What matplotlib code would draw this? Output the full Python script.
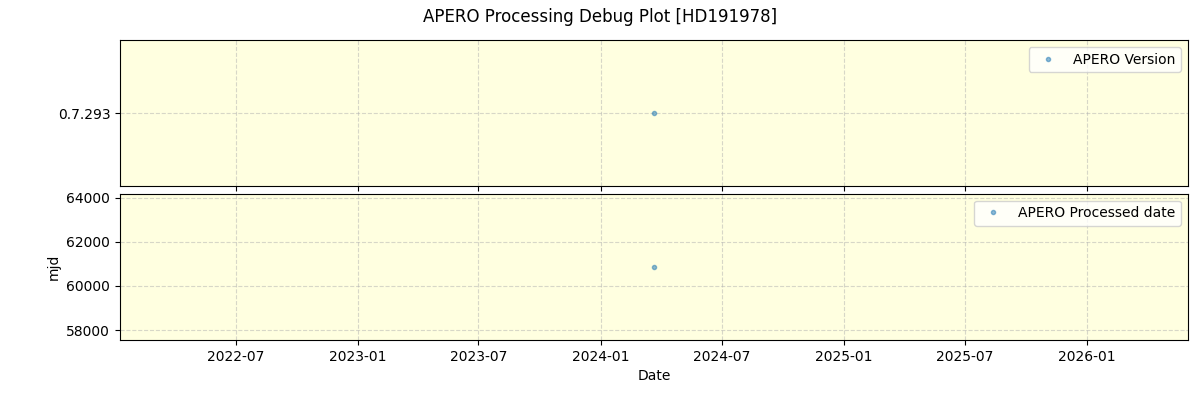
import matplotlib
matplotlib.use("Agg")
import matplotlib.pyplot as plt
import pandas as pd

# data
obs_dates = pd.to_datetime(["2024-03-21"])
versions = ["0.7.293"]
processed_mjd = [60864]

fig, (ax1, ax2) = plt.subplots(2, 1, figsize=(12, 4), dpi=100, sharex=True)
fig.subplots_adjust(left=0.1, right=0.99, top=0.9, bottom=0.15, hspace=0.05)
fig.suptitle("APERO Processing Debug Plot [HD191978]")

ax1.plot(obs_dates, versions, ".", alpha=0.5, label="APERO Version")
ax2.plot(obs_dates, processed_mjd, ".", alpha=0.5, label="APERO Processed date")

for ax in (ax1, ax2):
    ax.set_facecolor("lightyellow")
    ax.grid(True, linestyle="--", alpha=0.5)
    ax.legend(loc="upper right")

ax2.set_xlim(pd.Timestamp("2022-01-08"), pd.Timestamp("2026-06-02"))
ax2.set_ylim(57550, 64180)
ax2.set_ylabel("mjd")
ax2.set_xlabel("Date")

fig.savefig("out.png")
